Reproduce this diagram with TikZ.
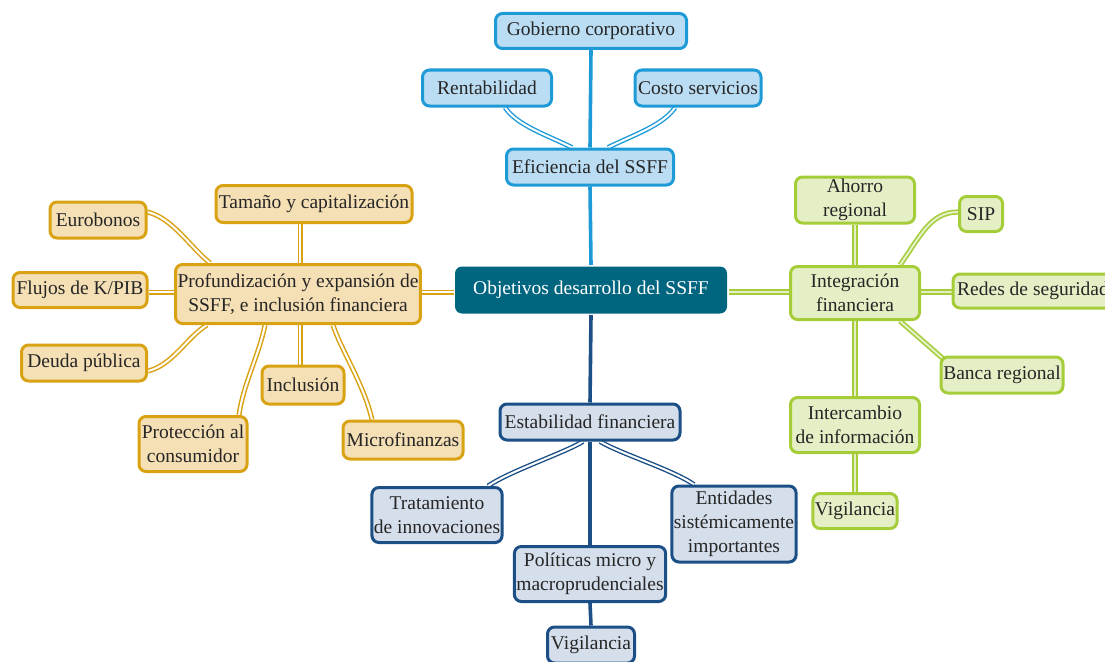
\documentclass[tikz,border=0pt]{standalone}
\usepackage{fontspec}
\setmainfont{Liberation Serif}
\usetikzlibrary{calc}
\definecolor{blueB}{HTML}{1E9BD7}
\definecolor{blueF}{HTML}{BBDDF3}
\definecolor{goldB}{HTML}{D9A213}
\definecolor{goldF}{HTML}{F5DFB5}
\definecolor{greenB}{HTML}{A5CD3A}
\definecolor{greenF}{HTML}{E5EFC6}
\definecolor{navyB}{HTML}{1B4F86}
\definecolor{navyF}{HTML}{D5DEEB}
\definecolor{hub}{HTML}{00657F}
\definecolor{txt}{HTML}{262626}
\pgfdeclarelayer{bg}
\pgfsetlayers{bg,main}
\begin{document}
\begin{tikzpicture}[x=1pt,y=-1pt,
  box/.style={rounded corners=7pt, line width=3pt, inner sep=2pt, align=center,
    font=\fontsize{19.5}{24}\selectfont, text=txt},
  bluebox/.style={box, draw=blueB, fill=blueF},
  goldbox/.style={box, draw=goldB, fill=goldF},
  greenbox/.style={box, draw=greenB, fill=greenF},
  navybox/.style={box, draw=navyB, fill=navyF},
  hubbox/.style={box, draw=none, fill=hub, text=white},
  sz/.style 2 args={minimum width=#1pt, minimum height=#2pt},
  blueln/.style={draw=blueB, line width=3.6pt},
  bluedbl/.style={draw=blueB, line width=1.4pt, double=white, double distance=2pt},
  navyln/.style={draw=navyB, line width=3.6pt},
  navydbl/.style={draw=navyB, line width=1.4pt, double=white, double distance=2pt},
  golddbl/.style={draw=goldB, line width=1.5pt, double=white, double distance=2pt},
  greendbl/.style={draw=greenB, line width=1.6pt, double=greenF, double distance=2pt},
]
\useasboundingbox (0,0) rectangle (1105,661);

% central hub
\node[hubbox, sz={272}{47}] (hub) at (591,290) {Objetivos desarrollo del SSFF};

% efficiency branch
\node[bluebox, sz={191}{35}] (gob) at (591,31) {Gobierno corporativo};
\node[bluebox, sz={129}{36}] (rent) at (487,88) {Rentabilidad};
\node[bluebox, sz={126}{36}] (costo) at (698,88) {Costo servicios};
\node[bluebox, sz={167}{36}] (efic) at (590,167) {Eficiencia del SSFF};

% depth and inclusion branch
\node[goldbox, sz={196}{37}] (tam) at (314,204) {Tamaño y capitalización};
\node[goldbox, sz={96}{36}] (euro) at (98,220) {Eurobonos};
\node[goldbox, sz={242}{59}] (prof) at (298,294) {Profundización y expansión de\\SSFF, e inclusión financiera};
\node[goldbox, sz={134}{35}] (flujos) at (80,290) {Flujos de K/PIB};
\node[goldbox, sz={125}{36}] (deuda) at (84,363) {Deuda pública};
\node[goldbox, sz={82}{38}] (incl) at (303,385) {Inclusión};
\node[goldbox, sz={108}{55}] (prot) at (193,444) {Protección al\\consumidor};
\node[goldbox, sz={120}{38}] (micro) at (403,440) {Microfinanzas};

% stability branch
\node[navybox, sz={180}{36}] (estab) at (590,422) {Estabilidad financiera};
\node[navybox, sz={124}{55}] (trat) at (437,515) {Tratamiento\\de innovaciones};
\node[navybox, sz={122}{76}] (ent) at (734,524) {Entidades\\sistémicamente\\importantes};
\node[navybox, sz={150}{55}] (pol) at (590,574) {Políticas micro y\\macroprudenciales};
\node[navybox, sz={87}{36}] (vigb) at (591,645) {Vigilancia};

% integration branch
\node[greenbox, sz={119}{46}] (ahorro) at (855,200) {Ahorro\\regional};
\node[greenbox, sz={43}{35}] (sip) at (981,214) {SIP};
\node[greenbox, sz={129}{53}] (integ) at (855,293) {Integración\\financiera};
\node[greenbox, sz={160}{34}] (redes) at (1033,291) {Redes de seguridad};
\node[greenbox, sz={122}{36}] (banca) at (1002,375) {Banca regional};
\node[greenbox, sz={129}{55}] (inter) at (855,425) {Intercambio\\de información};
\node[greenbox, sz={84}{35}] (vigg) at (855,511) {Vigilancia};

\begin{pgfonlayer}{bg}
% efficiency connectors
\draw[blueln] (hub.north) -- (efic.south);
\draw[blueln] (efic.north) -- (gob.south);
\draw[bluedbl] ([xshift=18pt]rent.south) .. controls +(12,18) and +(-24,-12) .. ([xshift=-18pt]efic.north);
\draw[bluedbl] ([xshift=-23pt]costo.south) .. controls +(-12,18) and +(24,-12) .. ([xshift=18pt]efic.north);

% depth connectors
\draw[golddbl] (hub.west |- 0,292) -- (prof.east |- 0,292);
\draw[golddbl] (tam.south -| 300,0) -- (prof.north -| 300,0);
\draw[golddbl] (prof.south -| 300,0) -- (incl.north -| 300,0);
\draw[golddbl] (flujos.east |- 0,292) -- (prof.west |- 0,292);
\draw[golddbl] ([yshift=8pt]euro.east) .. controls +(25,6) and +(-20,-16) .. (210,263);
\draw[golddbl] ([yshift=-8pt]deuda.east) .. controls +(25,-6) and +(-20,12) .. (207,325);
\draw[golddbl] (265,325) .. controls +(-6,30) and +(4,-30) .. ([xshift=46pt]prot.north);
\draw[golddbl] (333,325) .. controls +(8,25) and +(-8,-35) .. ([xshift=-31pt]micro.north);

% stability connectors
\draw[navyln] (hub.south) -- (estab.north);
\draw[navyln] (estab.south) -- (pol.north);
\draw[navyln] (pol.south) -- (vigb.north);
\draw[navydbl] ([xshift=-7pt]estab.south) .. controls +(-20,12) and +(22,-15) .. ([xshift=51pt]trat.north);
\draw[navydbl] ([xshift=10pt]estab.south) .. controls +(20,12) and +(-22,-15) .. ([xshift=-40pt]ent.north);

% integration connectors
\draw[greendbl] (hub.east |- 0,292) -- (integ.west |- 0,292);
\draw[greendbl] (ahorro.south) -- (integ.north);
\draw[greendbl] (integ.south) -- (inter.north);
\draw[greendbl] (inter.south) -- (vigg.north);
\draw[greendbl] (integ.east |- 0,292) -- (redes.west |- 0,292);
\draw[greendbl] ([xshift=45pt]integ.north) .. controls +(20,-28) and +(-28,0) .. ([yshift=2pt]sip.west);
\draw[greendbl] ([xshift=45pt]integ.south) -- ([xshift=-58pt,yshift=-4pt]banca.north);
\end{pgfonlayer}
\end{tikzpicture}
\end{document}
